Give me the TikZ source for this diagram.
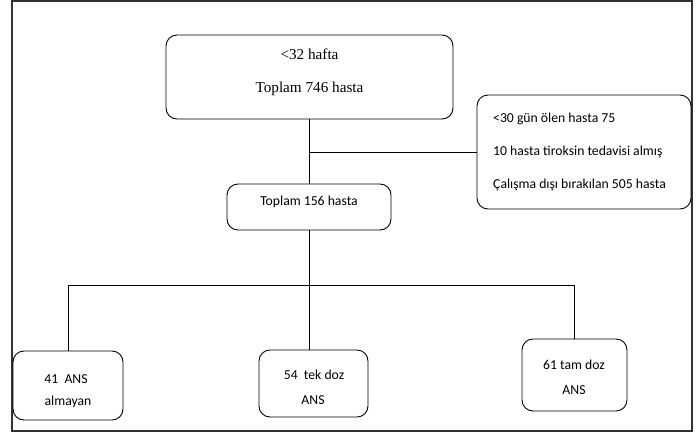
\documentclass[tikz,border=0pt]{standalone}
\usepackage{fontspec}
\setmainfont{Carlito}
\newfontfamily\timesf{Liberation Serif}
\begin{document}
\begin{tikzpicture}[x=1pt,y=-1pt,
  box/.style={draw=black, rounded corners=11pt, line width=0.9pt, inner sep=0pt},
  conn/.style={draw=black, line width=0.9pt},
  txt/.style={inner sep=0pt, font=\fontsize{13.7}{16}\selectfont},
  serif/.style={inner sep=0pt, font=\timesf\fontsize{15.2}{18}\selectfont}]
\useasboundingbox (0,0) rectangle (696,432);
\draw[line width=1.5pt, draw=black!80] (12,1) rectangle (692,431);

\node[box, minimum width=287pt, minimum height=84pt] (top) at (309.5,77) {};
\node[serif] (t1) at (309.5,54) {<32 hafta};
\node[serif] (t2) at (309.5,89) {Toplam 746 hasta};

\node[box, minimum width=214pt, minimum height=114pt] (right) at (584,152) {};
\node[txt, anchor=west] (r1) at (493,119) {<30 gün ölen hasta 75};
\node[txt, anchor=west] (r2) at (493,152) {10 hasta tiroksin tedavisi almış};
\node[txt, anchor=west] (r3) at (493,185) {Çalışma dışı bırakılan 505 hasta};

\node[box, minimum width=164pt, minimum height=46pt] (mid) at (309,207) {};
\node[txt] (m1) at (309,202) {Toplam 156 hasta};

\node[box, minimum width=110pt, minimum height=69pt] (b1) at (68,385.5) {};
\node[txt] (b1a) at (66,379) {41\ \ ANS};
\node[txt] (b1b) at (68,402) {almayan};

\node[box, minimum width=109pt, minimum height=67pt] (b2) at (313.5,383.5) {};
\node[txt] (b2a) at (314,375) {54\ \ tek doz};
\node[txt] (b2b) at (313,400) {ANS};

\node[box, minimum width=105pt, minimum height=72pt] (b3) at (574.5,375) {};
\node[txt] (b3a) at (574,365) {61 tam doz};
\node[txt] (b3b) at (574,390) {ANS};

\coordinate (j1) at (309,152);
\coordinate (bus) at (309,285);

\draw[conn] (top.south) -- (top.south |- mid.north);
\draw[conn] (j1) -- (right.west);
\draw[conn] (mid.south) -- (mid.south |- b2.north);
\draw[conn] (b1.north) -- (b1.north |- bus) -- (b3.north |- bus) -- (b3.north);
\end{tikzpicture}
\end{document}
